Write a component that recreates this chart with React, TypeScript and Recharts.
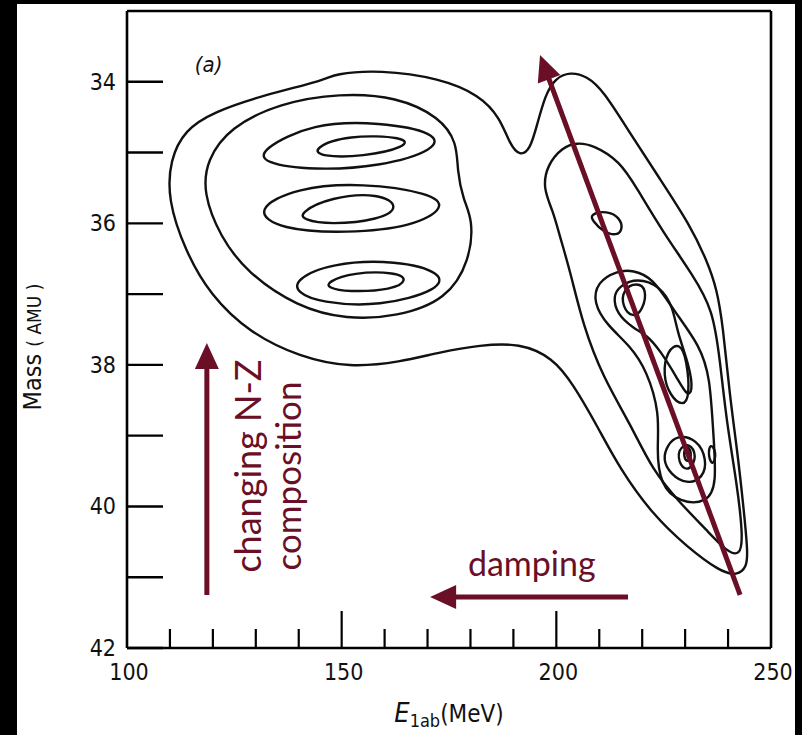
import { LineChart, Line, XAxis, YAxis, ReferenceLine, ReferenceDot } from 'recharts'

// contour lines, [E_lab (MeV), mass (AMU)]
const outerContour: [number, number][] = [
  [109.5, 35.67], [110.0, 35.1], [113.5, 34.68], [120.0, 34.43], [131.7, 34.19], [146.6, 33.97],
  [148.0, 33.89], [158.9, 33.83], [172.9, 33.95], [182.2, 34.19], [186.9, 34.51], [189.2, 34.89],
  [191.5, 35.05], [193.9, 34.96], [195.5, 34.61], [197.4, 34.19], [199.7, 33.95], [203.2, 33.86],
  [207.1, 33.92], [210.9, 34.12], [217.1, 34.72], [224.1, 35.37], [231.1, 36.02], [235.1, 36.53],
  [237.4, 36.93], [238.8, 37.44], [240.4, 38.44], [242.1, 39.19], [243.5, 39.95], [244.6, 40.64],
  [244.4, 40.85], [242.1, 40.98], [238.1, 40.92], [230.4, 40.57], [222.5, 40.12], [214.8, 39.47],
  [209.5, 38.86], [203.9, 38.27], [199.2, 37.9], [191.5, 37.69], [182.2, 37.72], [172.9, 37.82],
  [163.6, 37.96], [151.9, 38.04], [140.3, 37.89], [128.6, 37.55], [119.3, 37.01], [113.5, 36.38],
]
const leftRing: [number, number][] = [
  [149.6, 34.16], [135.6, 34.3], [124.0, 34.64], [118.6, 35.1], [117.7, 35.57], [121.7, 36.19],
  [128.0, 36.7], [139.6, 37.18], [151.2, 37.36], [162.9, 37.32], [174.5, 37.08], [179.9, 36.52],
  [180.6, 35.95], [178.3, 35.67], [176.9, 35.25], [176.9, 34.86], [172.9, 34.5], [162.9, 34.21],
]
const topOuter: [number, number][] = [
  [131.0, 34.96], [143.3, 34.58], [158.9, 34.57], [172.2, 34.72], [172.2, 34.96], [158.9, 35.2], [143.3, 35.25], [131.7, 35.15],
]
const topInner: [number, number][] = [
  [143.3, 34.94], [151.2, 34.75], [165.2, 34.78], [165.2, 34.92], [155.0, 35.06], [145.0, 35.06],
]
const midOuter: [number, number][] = [
  [129.3, 35.81], [139.6, 35.49], [155.0, 35.43], [170.6, 35.57], [174.5, 35.77], [166.6, 36.05], [151.2, 36.14], [135.6, 36.09],
]
const midInner: [number, number][] = [
  [140.3, 35.85], [147.3, 35.63], [158.9, 35.57], [163.6, 35.77], [158.9, 35.95], [147.3, 36.02], [141.0, 35.95],
]
const lowOuter: [number, number][] = [
  [139.1, 36.8], [147.3, 36.56], [162.9, 36.52], [173.6, 36.7], [172.9, 36.94], [158.9, 37.18], [145.0, 37.12], [139.6, 36.98],
]
const lowInner: [number, number][] = [
  [146.6, 36.83], [152.6, 36.69], [162.9, 36.69], [165.4, 36.8], [162.0, 36.94], [151.2, 36.97], [146.8, 36.91],
]
const ridgeRing: [number, number][] = [
  [196.9, 35.51], [197.8, 35.18], [201.5, 34.92], [204.8, 34.86], [208.5, 34.89], [214.8, 35.12],
  [218.8, 35.51], [224.8, 36.12], [231.8, 36.73], [236.5, 37.22], [238.1, 37.93], [239.7, 38.83],
  [242.1, 39.69], [243.5, 40.44], [242.8, 40.7], [239.7, 40.64], [235.1, 40.34], [228.8, 39.95],
  [222.5, 39.5], [217.2, 38.83], [210.9, 38.18], [206.2, 37.44], [203.2, 36.67], [200.8, 36.18], [199.2, 35.82],
]
const ridgeLower: [number, number][] = [
  [214.1, 36.67], [209.5, 36.83], [208.6, 37.12], [211.8, 37.44], [217.2, 37.73], [221.1, 38.08],
  [224.1, 38.69], [223.4, 39.19], [224.1, 39.69], [228.8, 39.95], [235.1, 39.95], [237.4, 39.69],
  [236.5, 38.93], [235.8, 38.18], [233.5, 37.73], [227.2, 37.22], [222.5, 36.77], [217.9, 36.66],
]
const upperPeakRing: [number, number][] = [
  [214.8, 36.88], [213.2, 37.03], [214.1, 37.28], [217.9, 37.48], [221.1, 37.58], [224.1, 37.79],
  [228.1, 38.18], [230.4, 38.44], [231.8, 38.38], [231.1, 38.03], [228.1, 37.53], [227.2, 37.18],
  [224.1, 36.88], [218.8, 36.77],
]
const upperPeakCore: [number, number][] = [
  [215.5, 36.93], [218.8, 36.83], [221.1, 36.93], [220.2, 37.22], [217.9, 37.34], [215.3, 37.18],
]
const sideIsland: [number, number][] = [
  [207.8, 35.87], [211.8, 35.82], [214.8, 35.92], [215.5, 36.08], [214.1, 36.18], [210.9, 36.12], [208.5, 35.97],
]
const longIsland: [number, number][] = [
  [225.8, 37.79], [228.8, 37.68], [230.4, 37.93], [231.1, 38.44], [229.5, 38.59], [226.5, 38.44], [224.8, 38.14],
]
const lowerPeakRing: [number, number][] = [
  [225.8, 39.14], [228.1, 38.99], [232.8, 39.05], [235.1, 39.34], [234.2, 39.6], [230.4, 39.69], [226.5, 39.54], [224.8, 39.34],
]
const lowerPeakMid: [number, number][] = [
  [228.1, 39.19], [231.1, 39.09], [232.8, 39.29], [231.1, 39.5], [228.8, 39.44],
]
const lowerPeakCore: [number, number][] = [
  [229.5, 39.19], [231.1, 39.14], [231.6, 39.34], [230.0, 39.38],
]
const lowerPeakSide: [number, number][] = [
  [235.8, 39.09], [237.4, 39.24], [236.5, 39.44], [235.3, 39.29],
]

const contours = [
  outerContour, leftRing, topOuter, topInner, midOuter, midInner, lowOuter, lowInner,
  ridgeRing, ridgeLower, upperPeakRing, upperPeakCore, sideIsland, longIsland,
  lowerPeakRing, lowerPeakMid, lowerPeakCore, lowerPeakSide,
]

const energyTicks = [100, 110, 120, 130, 140, 150, 160, 170, 180, 190, 200, 210, 220, 230, 240, 250]
const massTicks = [34, 35, 36, 37, 38, 39, 40, 41, 42]

// annotation arrows, tail -> tip
const diagonalArrow = [{ x: 242.8, y: 41.25 }, { x: 196.2, y: 33.62 }]
const compositionArrow = [{ x: 118.6, y: 41.25 }, { x: 118.6, y: 37.69 }]
const dampingArrow = [{ x: 216.7, y: 41.28 }, { x: 170.6, y: 41.28 }]

const MAROON = '#6a0f26'
const numFont = "'DejaVu Sans Condensed', 'Liberation Sans Narrow', sans-serif"
const noteFont = "Lato, 'Open Sans', sans-serif"

const toRows = (pts: [number, number][]) => pts.map(([e, m]) => ({ e, m }))

const LeftTick = ({ x, y, payload }: any) => (
  <g>
    <line x1={x} y1={y} x2={x + 36} y2={y} stroke="#000" strokeWidth={2.4} />
    {payload.value % 2 === 0 && (
      <text x={x - 11} y={y + 8} textAnchor="end" fontSize={23} fontFamily={numFont} fill="#111">
        {payload.value}
      </text>
    )}
  </g>
)

const RightTick = ({ x, y, payload }: any) =>
  payload.value === 42 ? <g /> : <line x1={x} y1={y} x2={x - 35} y2={y} stroke="#000" strokeWidth={2.4} />

const BottomTick = ({ x, y, payload }: any) => {
  const major = payload.value % 50 === 0
  return (
    <g>
      {payload.value > 100 && payload.value < 250 && (
        <line x1={x} y1={y} x2={x} y2={y - (major ? 37 : 19)} stroke="#000" strokeWidth={2.2} />
      )}
      {major && (
        <text x={x + 2} y={y + 32} textAnchor="middle" fontSize={23} fontFamily={numFont} fill="#111">
          {payload.value}
        </text>
      )}
    </g>
  )
}

const TopTick = ({ x, y, payload }: any) => {
  const major = payload.value % 50 === 0
  if (payload.value === 100 || payload.value === 250) return <g />
  return <line x1={x} y1={y} x2={x} y2={y + (major ? 37 : 19)} stroke="#000" strokeWidth={2.2} />
}

const EnergyTitle = ({ viewBox }: any) => (
  <text x={viewBox.x + viewBox.width / 2} y={viewBox.y + 74} textAnchor="middle" fontFamily={numFont} fill="#111">
    <tspan fontSize={27} fontStyle="italic">E</tspan>
    <tspan fontSize={18} dy={5}>1ab</tspan>
    <tspan fontSize={24} dy={-5}>(MeV)</tspan>
  </text>
)

const MassTitle = () => (
  <text x={41} y={347} transform="rotate(-90 41 347)" textAnchor="middle" fontFamily={numFont} fill="#111">
    <tspan fontSize={25}>Mass </tspan>
    <tspan fontSize={19}>( AMU )</tspan>
  </text>
)

const arrowShape = (props: any) => {
  const { x1, y1, x2, y2 } = props
  const ang = Math.atan2(y2 - y1, x2 - x1)
  const c = Math.cos(ang)
  const s = Math.sin(ang)
  const bx = x2 - 26 * c
  const by = y2 - 26 * s
  const pts = `${x2},${y2} ${bx - 12 * s},${by + 12 * c} ${bx + 12 * s},${by - 12 * c}`
  return (
    <g>
      <line x1={x1} y1={y1} x2={bx + 2 * c} y2={by + 2 * s} stroke={MAROON} strokeWidth={5} />
      <polygon points={pts} fill={MAROON} />
    </g>
  )
}

const noteText = (text: string, opts: any) => (p: any) => (
  <text
    x={p.cx}
    y={p.cy}
    transform={opts.rotate ? `rotate(-90 ${p.cx} ${p.cy})` : undefined}
    textAnchor={opts.anchor || 'middle'}
    fontSize={opts.size}
    fontFamily={opts.font || noteFont}
    fontStyle={opts.italic ? 'italic' : 'normal'}
    fill={opts.color || MAROON}
  >
    {text}
  </text>
)

export default function App() {
  return (
    <div style={{ position: 'fixed', left: 0, top: 0, width: 802, height: 735, background: '#000' }}>
      <div style={{ position: 'absolute', left: 17, top: 4, width: 778, height: 731, background: '#fff' }} />
      <div style={{ position: 'absolute', left: 0, top: 0 }}>
        <LineChart width={802} height={735} margin={{ top: 6, right: 21, bottom: 27, left: 67 }}>
          <XAxis
            type="number"
            dataKey="e"
            domain={[100, 250]}
            ticks={energyTicks}
            interval={0}
            allowDataOverflow
            height={60}
            tickSize={0}
            tickMargin={0}
            tickLine={false}
            axisLine={{ stroke: '#000', strokeWidth: 2.6 }}
            tick={<BottomTick />}
            label={<EnergyTitle />}
          />
          <XAxis
            xAxisId="top"
            orientation="top"
            type="number"
            dataKey="e"
            domain={[100, 250]}
            ticks={energyTicks}
            interval={0}
            height={5}
            tickSize={0}
            tickMargin={0}
            tickLine={false}
            axisLine={{ stroke: '#000', strokeWidth: 2.6 }}
            tick={<TopTick />}
          />
          <YAxis
            type="number"
            domain={[33, 42]}
            reversed
            ticks={massTicks}
            interval={0}
            allowDataOverflow
            width={60}
            tickSize={0}
            tickMargin={0}
            tickLine={false}
            axisLine={{ stroke: '#000', strokeWidth: 2.6 }}
            tick={<LeftTick />}
            label={<MassTitle />}
          />
          <YAxis
            yAxisId="right"
            orientation="right"
            type="number"
            domain={[33, 42]}
            reversed
            ticks={massTicks}
            interval={0}
            width={10}
            tickSize={0}
            tickMargin={0}
            tickLine={false}
            axisLine={{ stroke: '#000', strokeWidth: 2.6 }}
            tick={<RightTick />}
          />
          {contours.map((c, i) => (
            <Line
              key={`contour-${i}`}
              data={toRows(c)}
              dataKey="m"
              type="basisClosed"
              stroke="#111"
              strokeWidth={2.4}
              dot={false}
              activeDot={false}
              isAnimationActive={false}
            />
          ))}
          <ReferenceLine segment={diagonalArrow} shape={arrowShape} />
          <ReferenceLine segment={compositionArrow} shape={arrowShape} />
          <ReferenceLine segment={dampingArrow} shape={arrowShape} />
          <ReferenceDot x={115.8} y={33.86} r={0} shape={noteText('(a)', { size: 22, anchor: 'start', italic: true, color: '#111', font: numFont })} />
          <ReferenceDot x={179.4} y={40.98} r={0} shape={noteText('damping', { size: 34, anchor: 'start' })} />
          <ReferenceDot x={131.2} y={39.43} r={0} shape={noteText('changing N-Z', { size: 36, rotate: true })} />
          <ReferenceDot x={140.6} y={39.57} r={0} shape={noteText('composition', { size: 35, rotate: true })} />
        </LineChart>
      </div>
    </div>
  )
}
